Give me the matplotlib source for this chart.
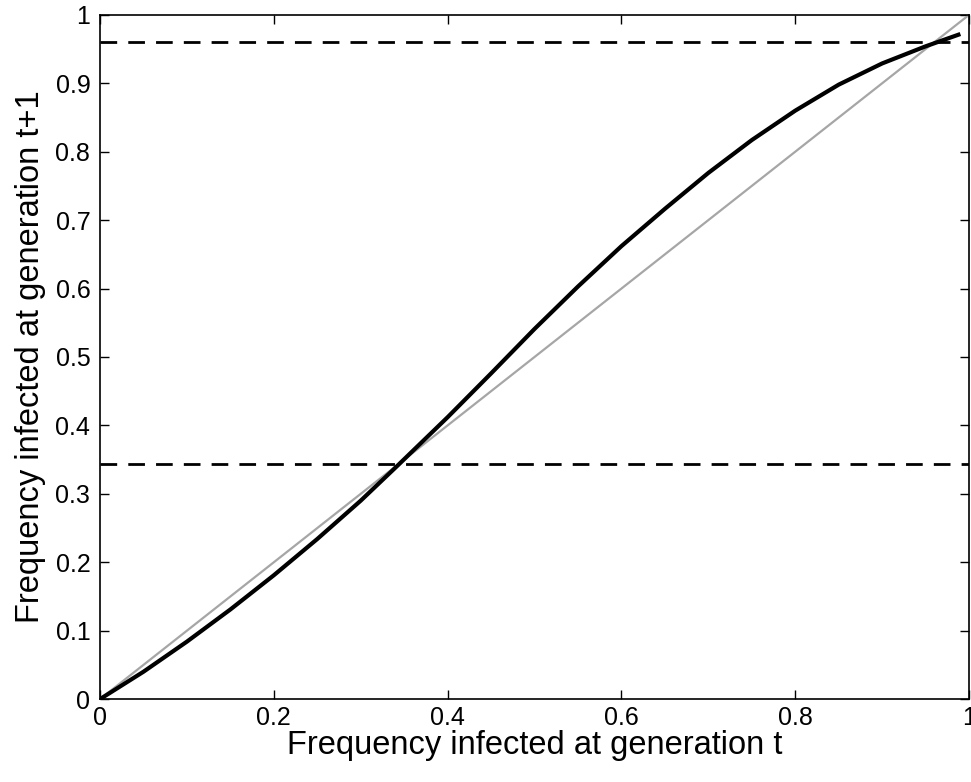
import matplotlib
matplotlib.use("Agg")
import matplotlib.pyplot as plt

# data
freq_t = [0.0, 0.05, 0.1, 0.15, 0.2, 0.25, 0.3, 0.343, 0.4, 0.45, 0.5,
          0.55, 0.6, 0.65, 0.7, 0.75, 0.8, 0.85, 0.9, 0.95, 0.99]
freq_t1 = [0.0, 0.040, 0.084, 0.131, 0.181, 0.234, 0.290, 0.342, 0.412, 0.476, 0.541,
           0.603, 0.662, 0.7165, 0.769, 0.817, 0.860, 0.898, 0.929, 0.954, 0.972]
diag = [0.0, 1.0]
equilibria = [0.343, 0.961]
xticks = [0, 0.2, 0.4, 0.6, 0.8, 1]
yticks = [0, 0.1, 0.2, 0.3, 0.4, 0.5, 0.6, 0.7, 0.8, 0.9, 1]

plt.rcParams['font.family'] = ['Liberation Sans', 'DejaVu Sans']

fig = plt.figure(figsize=(9.71, 7.82), dpi=100)
ax = fig.add_axes([0.103, 0.106, 0.895, 0.875])

ax.plot(diag, diag, color='#a6a6a6', lw=1.6)
ax.plot(freq_t, freq_t1, color='black', lw=3.0, solid_capstyle='butt',
        solid_joinstyle='round')
for e in equilibria:
    ax.axhline(e, color='black', lw=2.0, dashes=(6, 4))

ax.set_xlim(0, 1)
ax.set_ylim(0, 1)
ax.set_xticks(xticks)
ax.set_yticks(yticks)
ax.set_xticklabels([f"{v:g}" for v in xticks])
ax.set_yticklabels([f"{v:g}" for v in yticks])
ax.tick_params(direction='in', length=6.5, width=1, top=True, right=True,
               labelsize=18)
ax.tick_params(axis='y', pad=7)
ax.tick_params(axis='x', pad=5)
for s in ax.spines.values():
    s.set_linewidth(1.2)

ax.set_xlabel('Frequency infected at generation t', fontsize=23.5, labelpad=0)
ax.set_ylabel('Frequency infected at generation t+1', fontsize=23.5, labelpad=7)

fig.savefig('out.png', dpi=100)
